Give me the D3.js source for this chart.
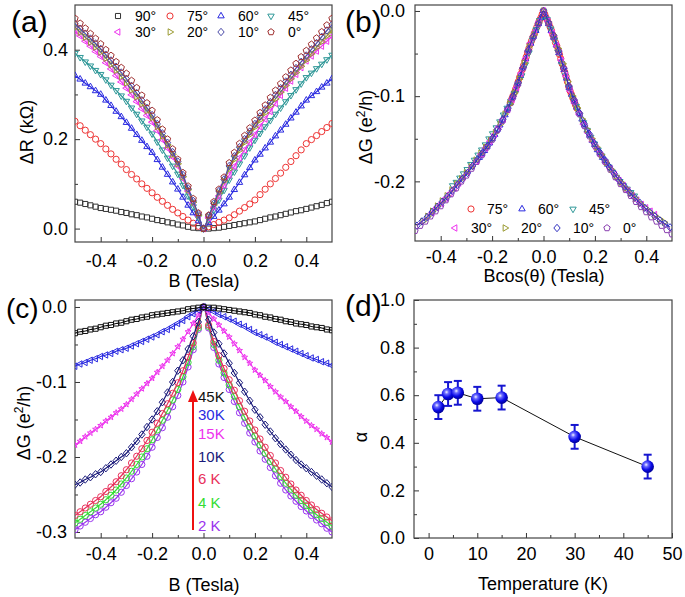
<!DOCTYPE html>
<html><head><meta charset="utf-8">
<script src="https://cdn.jsdelivr.net/npm/d3@7"></script>
<style>body{margin:0;background:#fff;} text{font-family:"Liberation Sans",Arial,sans-serif;fill:#000;}</style>
</head><body><svg id="c" width="685" height="597"></svg>
<script>
// ---------- DATA ----------
const B = [-0.50,-0.48,-0.46,-0.44,-0.42,-0.40,-0.38,-0.36,-0.34,-0.32,-0.30,-0.28,-0.26,-0.24,-0.22,-0.20,-0.18,-0.16,-0.14,-0.12,-0.10,-0.08,-0.06,-0.04,-0.02,0,0.02,0.04,0.06,0.08,0.10,0.12,0.14,0.16,0.18,0.20,0.22,0.24,0.26,0.28,0.30,0.32,0.34,0.36,0.38,0.40,0.42,0.44,0.46,0.48,0.50];

// panel (a): ΔR (kΩ) vs B for each tilt angle
const angles = [90,75,60,45,30,20,10,0];
const angleLabels = ["90°","75°","60°","45°","30°","20°","10°","0°"];
const dR90 = [0.060,0.058,0.055,0.052,0.049,0.046,0.044,0.042,0.040,0.037,0.035,0.032,0.030,0.027,0.025,0.022,0.019,0.017,0.014,0.012,0.009,0.007,0.004,0.002,0.001,0.000,0.000,0.001,0.002,0.004,0.006,0.008,0.010,0.012,0.014,0.016,0.019,0.022,0.025,0.027,0.030,0.033,0.036,0.039,0.041,0.044,0.047,0.050,0.053,0.057,0.060];
const dR75 = [0.240,0.230,0.220,0.210,0.200,0.190,0.178,0.167,0.155,0.144,0.132,0.121,0.111,0.100,0.090,0.080,0.070,0.061,0.052,0.043,0.035,0.027,0.019,0.012,0.005,0,0.004,0.009,0.014,0.019,0.024,0.031,0.039,0.047,0.055,0.064,0.076,0.088,0.100,0.112,0.124,0.137,0.150,0.163,0.176,0.190,0.199,0.208,0.217,0.226,0.235];
const dR60 = [0.342,0.334,0.325,0.317,0.308,0.300,0.287,0.275,0.262,0.250,0.237,0.224,0.210,0.197,0.183,0.170,0.154,0.137,0.121,0.104,0.088,0.070,0.052,0.035,0.017,0,0.013,0.027,0.041,0.055,0.070,0.087,0.103,0.120,0.136,0.153,0.166,0.180,0.193,0.207,0.220,0.233,0.247,0.260,0.274,0.287,0.297,0.306,0.316,0.325,0.335];
const dR45 = [0.392,0.383,0.373,0.364,0.354,0.345,0.333,0.321,0.309,0.297,0.285,0.270,0.256,0.241,0.227,0.212,0.194,0.176,0.158,0.140,0.122,0.097,0.073,0.049,0.025,0,0.021,0.042,0.064,0.086,0.109,0.127,0.145,0.163,0.181,0.198,0.213,0.228,0.242,0.256,0.270,0.284,0.298,0.311,0.324,0.338,0.348,0.358,0.368,0.378,0.388];
const dR30 = [0.442,0.431,0.419,0.408,0.396,0.385,0.371,0.357,0.342,0.328,0.314,0.299,0.284,0.268,0.253,0.238,0.219,0.199,0.180,0.160,0.140,0.112,0.084,0.057,0.029,0,0.024,0.048,0.073,0.097,0.120,0.139,0.158,0.176,0.193,0.210,0.228,0.245,0.262,0.280,0.298,0.314,0.330,0.345,0.360,0.375,0.386,0.397,0.408,0.419,0.430];
const dR20 = [0.450,0.439,0.428,0.417,0.406,0.395,0.381,0.367,0.354,0.340,0.326,0.310,0.295,0.279,0.264,0.248,0.228,0.207,0.187,0.166,0.145,0.116,0.087,0.059,0.030,0,0.026,0.053,0.080,0.106,0.133,0.155,0.175,0.193,0.210,0.227,0.243,0.259,0.275,0.290,0.305,0.320,0.335,0.349,0.363,0.377,0.391,0.405,0.418,0.431,0.444];
const dR10 = [0.458,0.447,0.436,0.425,0.414,0.402,0.389,0.376,0.362,0.349,0.335,0.319,0.303,0.287,0.270,0.254,0.234,0.213,0.192,0.171,0.150,0.120,0.090,0.062,0.032,0,0.028,0.056,0.084,0.110,0.140,0.162,0.182,0.200,0.217,0.234,0.251,0.267,0.283,0.299,0.314,0.329,0.344,0.359,0.373,0.387,0.401,0.415,0.429,0.443,0.456];
const dR0  = [0.470,0.459,0.448,0.436,0.425,0.413,0.400,0.387,0.373,0.360,0.347,0.331,0.315,0.298,0.281,0.264,0.243,0.222,0.200,0.178,0.155,0.125,0.095,0.067,0.035,0,0.030,0.060,0.088,0.115,0.147,0.170,0.190,0.208,0.225,0.242,0.259,0.276,0.293,0.309,0.324,0.339,0.354,0.369,0.384,0.398,0.412,0.426,0.440,0.455,0.470];

// panel (b): ΔG (e²/h) vs B·cos(θ)
const anglesB = [75,60,45,30,20,10,0];
const dG75 = [-0.108,-0.104,-0.100,-0.096,-0.092,-0.088,-0.083,-0.078,-0.074,-0.069,-0.064,-0.059,-0.054,-0.049,-0.044,-0.039,-0.035,-0.031,-0.027,-0.023,-0.019,-0.015,-0.011,-0.008,-0.004,0,-0.004,-0.008,-0.011,-0.015,-0.019,-0.023,-0.028,-0.032,-0.037,-0.041,-0.046,-0.051,-0.056,-0.062,-0.067,-0.072,-0.077,-0.083,-0.089,-0.094,-0.098,-0.102,-0.106,-0.110,-0.114];
const dG60 = [-0.172,-0.168,-0.164,-0.159,-0.155,-0.150,-0.145,-0.139,-0.134,-0.128,-0.122,-0.115,-0.108,-0.101,-0.093,-0.085,-0.076,-0.066,-0.056,-0.046,-0.038,-0.030,-0.023,-0.015,-0.008,0,-0.007,-0.015,-0.023,-0.031,-0.040,-0.049,-0.059,-0.069,-0.079,-0.090,-0.098,-0.106,-0.113,-0.120,-0.127,-0.134,-0.140,-0.146,-0.152,-0.157,-0.163,-0.167,-0.172,-0.176,-0.180];
const dG45 = [-0.205,-0.201,-0.196,-0.191,-0.186,-0.180,-0.175,-0.169,-0.163,-0.157,-0.150,-0.144,-0.137,-0.130,-0.122,-0.114,-0.106,-0.097,-0.087,-0.076,-0.063,-0.049,-0.034,-0.022,-0.011,0,-0.010,-0.021,-0.034,-0.048,-0.062,-0.076,-0.090,-0.102,-0.112,-0.122,-0.131,-0.140,-0.148,-0.156,-0.163,-0.170,-0.177,-0.183,-0.189,-0.195,-0.200,-0.205,-0.209,-0.213,-0.217];
const dG30 = [-0.237,-0.231,-0.226,-0.220,-0.214,-0.208,-0.202,-0.195,-0.189,-0.182,-0.176,-0.168,-0.161,-0.153,-0.145,-0.136,-0.127,-0.116,-0.104,-0.090,-0.073,-0.056,-0.038,-0.025,-0.012,0,-0.012,-0.026,-0.041,-0.058,-0.076,-0.094,-0.108,-0.121,-0.133,-0.143,-0.153,-0.162,-0.170,-0.178,-0.185,-0.192,-0.199,-0.205,-0.211,-0.217,-0.222,-0.227,-0.231,-0.235,-0.239];
const dG20 = [-0.247,-0.241,-0.235,-0.229,-0.223,-0.217,-0.210,-0.203,-0.197,-0.190,-0.183,-0.175,-0.167,-0.160,-0.152,-0.143,-0.133,-0.121,-0.109,-0.096,-0.080,-0.061,-0.042,-0.028,-0.014,0,-0.013,-0.028,-0.044,-0.062,-0.083,-0.100,-0.114,-0.127,-0.139,-0.150,-0.160,-0.169,-0.178,-0.186,-0.194,-0.201,-0.208,-0.214,-0.220,-0.226,-0.231,-0.236,-0.240,-0.244,-0.248];
const dG10 = [-0.252,-0.247,-0.242,-0.236,-0.230,-0.224,-0.218,-0.211,-0.204,-0.197,-0.190,-0.182,-0.174,-0.166,-0.158,-0.149,-0.139,-0.127,-0.114,-0.100,-0.084,-0.066,-0.046,-0.030,-0.015,0,-0.014,-0.029,-0.047,-0.067,-0.088,-0.104,-0.119,-0.132,-0.144,-0.155,-0.165,-0.174,-0.183,-0.191,-0.199,-0.206,-0.213,-0.219,-0.225,-0.231,-0.236,-0.241,-0.246,-0.250,-0.254];
const dG0  = [-0.258,-0.252,-0.247,-0.241,-0.235,-0.229,-0.222,-0.215,-0.208,-0.200,-0.193,-0.185,-0.177,-0.169,-0.160,-0.151,-0.140,-0.129,-0.116,-0.102,-0.086,-0.067,-0.047,-0.031,-0.015,0,-0.014,-0.030,-0.048,-0.068,-0.090,-0.106,-0.121,-0.135,-0.147,-0.158,-0.168,-0.177,-0.186,-0.195,-0.203,-0.210,-0.217,-0.224,-0.230,-0.236,-0.242,-0.247,-0.252,-0.257,-0.262];

// panel (c): ΔG (e²/h) vs B at each temperature
const tempLabels = ["45K","30K","15K","10K","6 K","4 K","2 K"];
const dG45K = [-0.035,-0.033,-0.032,-0.030,-0.029,-0.027,-0.025,-0.024,-0.022,-0.021,-0.019,-0.017,-0.016,-0.014,-0.013,-0.011,-0.010,-0.009,-0.008,-0.007,-0.006,-0.005,-0.003,-0.002,-0.001,0,-0.001,-0.001,-0.002,-0.003,-0.004,-0.005,-0.006,-0.007,-0.008,-0.010,-0.011,-0.013,-0.014,-0.016,-0.017,-0.019,-0.020,-0.022,-0.023,-0.024,-0.026,-0.027,-0.028,-0.030,-0.031];
const dG30K = [-0.079,-0.076,-0.074,-0.071,-0.069,-0.066,-0.064,-0.062,-0.059,-0.057,-0.055,-0.052,-0.049,-0.046,-0.043,-0.040,-0.037,-0.033,-0.030,-0.026,-0.022,-0.018,-0.013,-0.009,-0.004,0,-0.003,-0.006,-0.010,-0.013,-0.016,-0.019,-0.023,-0.026,-0.030,-0.034,-0.037,-0.040,-0.043,-0.047,-0.050,-0.053,-0.056,-0.059,-0.062,-0.065,-0.068,-0.070,-0.073,-0.075,-0.078];
const dG15K = [-0.184,-0.179,-0.173,-0.168,-0.163,-0.158,-0.152,-0.147,-0.141,-0.136,-0.130,-0.123,-0.116,-0.109,-0.102,-0.095,-0.087,-0.079,-0.071,-0.062,-0.053,-0.043,-0.033,-0.022,-0.011,0,-0.008,-0.016,-0.024,-0.032,-0.040,-0.049,-0.058,-0.067,-0.075,-0.084,-0.091,-0.098,-0.106,-0.113,-0.120,-0.126,-0.133,-0.139,-0.146,-0.152,-0.158,-0.163,-0.169,-0.174,-0.180];
const dG10K = [-0.237,-0.234,-0.230,-0.227,-0.223,-0.220,-0.215,-0.210,-0.205,-0.200,-0.195,-0.187,-0.179,-0.170,-0.160,-0.150,-0.139,-0.127,-0.114,-0.100,-0.085,-0.071,-0.056,-0.039,-0.020,0,-0.017,-0.034,-0.049,-0.062,-0.075,-0.088,-0.101,-0.113,-0.125,-0.137,-0.147,-0.157,-0.166,-0.175,-0.183,-0.190,-0.197,-0.204,-0.210,-0.215,-0.220,-0.225,-0.230,-0.235,-0.240];
const dG6K  = [-0.278,-0.273,-0.268,-0.263,-0.258,-0.253,-0.246,-0.240,-0.233,-0.225,-0.217,-0.208,-0.199,-0.189,-0.178,-0.167,-0.155,-0.142,-0.129,-0.115,-0.101,-0.085,-0.067,-0.048,-0.025,0,-0.024,-0.046,-0.065,-0.082,-0.097,-0.111,-0.125,-0.139,-0.152,-0.164,-0.176,-0.187,-0.198,-0.208,-0.218,-0.227,-0.236,-0.244,-0.251,-0.258,-0.264,-0.270,-0.275,-0.280,-0.285];
const dG4K  = [-0.288,-0.283,-0.278,-0.273,-0.268,-0.263,-0.257,-0.251,-0.244,-0.236,-0.228,-0.219,-0.210,-0.200,-0.189,-0.177,-0.164,-0.151,-0.138,-0.124,-0.110,-0.093,-0.074,-0.053,-0.028,0,-0.026,-0.050,-0.071,-0.088,-0.104,-0.119,-0.133,-0.147,-0.160,-0.172,-0.184,-0.195,-0.206,-0.216,-0.226,-0.235,-0.243,-0.251,-0.258,-0.265,-0.271,-0.277,-0.282,-0.287,-0.292];
const dG2K  = [-0.297,-0.292,-0.287,-0.282,-0.277,-0.273,-0.267,-0.261,-0.255,-0.247,-0.238,-0.229,-0.220,-0.210,-0.199,-0.187,-0.174,-0.161,-0.147,-0.133,-0.118,-0.100,-0.080,-0.057,-0.030,0,-0.028,-0.054,-0.076,-0.094,-0.110,-0.126,-0.141,-0.155,-0.168,-0.180,-0.192,-0.203,-0.214,-0.225,-0.235,-0.244,-0.252,-0.259,-0.266,-0.272,-0.278,-0.284,-0.289,-0.295,-0.300];

// panel (d): α vs temperature
const T = [2,4,6,10,15,30,45];
const alpha = [0.55,0.605,0.61,0.585,0.59,0.425,0.30];
const alphaErr = [0.05,0.05,0.05,0.05,0.05,0.05,0.05];

// ---------- HELPERS ----------
const svg = d3.select("#c");
const defs = svg.append("defs");
function poly(n, R, start){
  let p=[];
  for(let i=0;i<n;i++){const a=(start+360*i/n)*Math.PI/180;p.push([R*Math.cos(a),R*Math.sin(a)]);}
  return "M"+p.map(q=>q[0].toFixed(2)+","+q[1].toFixed(2)).join("L")+"Z";
}
function sym(shape, r){
  switch(shape){
    case "square": {const s=r*0.82;return `M${-s},${-s}h${2*s}v${2*s}h${-2*s}Z`;}
    case "circle": return `M${r},0A${r},${r} 0 1,1 ${-r},0A${r},${r} 0 1,1 ${r},0Z`;
    case "triUp": return poly(3,r*1.2,-90);
    case "triDown": return poly(3,r*1.2,90);
    case "triLeft": return poly(3,r*1.2,180);
    case "triRight": return poly(3,r*1.2,0);
    case "diamond": {const R=r*1.2;return `M0,${-R}L${R*0.85},0L0,${R}L${-R*0.85},0Z`;}
    case "pentagon": return poly(5,r*1.08,-90);
    case "star": {let p=[];for(let i=0;i<10;i++){const a=(-90+36*i)*Math.PI/180;const rr=i%2?r*0.5:r*1.2;p.push([rr*Math.cos(a),rr*Math.sin(a)]);}return "M"+p.map(q=>q[0].toFixed(2)+","+q[1].toFixed(2)).join("L")+"Z";}
  }
}
const fmt1 = d => d.toFixed(1);

function panel(id, px, py, xDom, yDom, o){
  const x = d3.scaleLinear().domain(xDom).range([px[0],px[1]]);
  const y = d3.scaleLinear().domain(yDom).range([py[1],py[0]]);
  const g = svg.append("g");
  defs.append("clipPath").attr("id","clip"+id).append("rect")
    .attr("x",px[0]).attr("y",py[0]).attr("width",px[1]-px[0]).attr("height",py[1]-py[0]);
  const ax = (axis, tr) => {
    const a = g.append("g").attr("transform",tr).call(axis);
    a.select(".domain").remove();
    a.selectAll("line").attr("stroke","#333").attr("stroke-width",1);
    a.selectAll("text").attr("font-size",18).attr("fill","#000").style("font-family","Liberation Sans, Arial, sans-serif");
    return a;
  };
  ax(d3.axisBottom(x).tickValues(o.xMajor).tickFormat(o.xFmt).tickSize(-5).tickPadding(o.xPad), `translate(0,${py[1]})`);
  ax(d3.axisBottom(x).tickValues(o.xMinor).tickFormat("").tickSize(-3), `translate(0,${py[1]})`);
  ax(d3.axisLeft(y).tickValues(o.yMajor).tickFormat(o.yFmt).tickSize(-5).tickPadding(o.yPad), `translate(${px[0]},0)`);
  ax(d3.axisLeft(y).tickValues(o.yMinor).tickFormat("").tickSize(-3), `translate(${px[0]},0)`);
  g.append("rect").attr("x",px[0]).attr("y",py[0]).attr("width",px[1]-px[0]).attr("height",py[1]-py[0])
    .attr("fill","none").attr("stroke","#444").attr("stroke-width",1.2);
  const plot = svg.append("g").attr("clip-path",`url(#clip${id})`);
  return {x,y,g,plot};
}
function drawSeries(P, xs, ys, shape, color, r, withLine, lineW){
  const pts = d3.zip(xs, ys);
  if(withLine){
    P.plot.append("path").datum(pts).attr("fill","none").attr("stroke",color).attr("stroke-width",lineW||1.3)
      .attr("d", d3.line().x(d=>P.x(d[0])).y(d=>P.y(d[1])).curve(d3.curveMonotoneX));
  }
  P.plot.append("g").selectAll("path").data(pts).join("path")
    .attr("transform",d=>`translate(${P.x(d[0])},${P.y(d[1])})`)
    .attr("d",sym(shape,r)).attr("fill","none").attr("stroke",color).attr("stroke-width",1);
}
function label(t, x, y, size, anchor, rot){
  const el = svg.append("text").attr("font-size",size).attr("text-anchor",anchor||"start");
  if(rot){el.attr("transform",`translate(${x},${y}) rotate(-90)`).attr("dy","0.35em");}
  else el.attr("x",x).attr("y",y);
  return el.text(t);
}
function gLabel(x,y){
  const el = svg.append("text").attr("font-size",18).attr("text-anchor","middle")
    .attr("transform",`translate(${x},${y}) rotate(-90)`).attr("dy","0.35em");
  el.append("tspan").text("ΔG (e");
  el.append("tspan").attr("font-size",12).attr("dy","-0.6em").text("2");
  el.append("tspan").attr("dy","0.4em").text("/h)");
}

// ---------- PANEL (a) ----------
const colA = {90:"#333333",75:"#ee3333",60:"#2a2ae0",45:"#2f9898",30:"#ee33ee",20:"#9a9a30",10:"#4a4aa8",0:"#a03030"};
const shp = {90:"square",75:"circle",60:"triUp",45:"triDown",30:"triLeft",20:"triRight",10:"diamond",0:"pentagon"};
const dRseries = {90:dR90,75:dR75,60:dR60,45:dR45,30:dR30,20:dR20,10:dR10,0:dR0};
const xMaj = [-0.4,-0.2,0,0.2,0.4], xMin = [-0.3,-0.1,0.1,0.3];
const Pa = panel("a",[75,332],[5,242],[-0.5,0.5],[-0.03,0.5],
  {xMajor:xMaj,xMinor:xMin,xFmt:fmt1,xPad:12,yMajor:[0,0.2,0.4],yMinor:[0.1,0.3],yFmt:fmt1,yPad:7});
angles.forEach(a=>drawSeries(Pa,B,dRseries[a],shp[a],colA[a],3.1,[60,45,30,20,10].includes(a),1.2));
// legend (a)
const legAx=[118,170,221,271], legAy=[16,32];
angles.forEach((a,i)=>{
  const cx=legAx[i%4], cy=legAy[Math.floor(i/4)];
  svg.append("path").attr("transform",`translate(${cx},${cy})`).attr("d",sym(shp[a],3.1))
    .attr("fill","none").attr("stroke",colA[a]).attr("stroke-width",1);
  label(angleLabels[i],cx+17,cy,14).attr("dy","0.36em");
});
label("(a)",11,32,30);
label("B (Tesla)",204,287,18,"middle");
label("ΔR (kΩ)",27,132,18,"middle",true);

// ---------- PANEL (b) ----------
const colB = {75:"#ee3333",60:"#2a2ae0",45:"#2f9898",30:"#ee33ee",20:"#9a9a30",10:"#3030c0",0:"#8a40b0"};
const dGseries = {75:dG75,60:dG60,45:dG45,30:dG30,20:dG20,10:dG10,0:dG0};
const Pb = panel("b",[415,672],[5,241],[-0.5,0.5],[-0.27,0.007],
  {xMajor:xMaj,xMinor:xMin,xFmt:fmt1,xPad:9,yMajor:[0,-0.1,-0.2],yMinor:[-0.05,-0.15,-0.25],yFmt:fmt1,yPad:10});
anglesB.forEach(a=>{
  const cs = Math.cos(a*Math.PI/180);
  drawSeries(Pb,B.map(b=>b*cs),dGseries[a],shp[a],colB[a],3.1,a===75||a===10,1.2);
});
const legB=[[471,209],[522,209],[573,209],[455,228],[505,228],[557,228],[607,228]];
anglesB.forEach((a,i)=>{
  const [cx,cy]=legB[i];
  svg.append("path").attr("transform",`translate(${cx},${cy})`).attr("d",sym(shp[a],3.1))
    .attr("fill","none").attr("stroke",colB[a]).attr("stroke-width",1);
  label(angleLabels[angles.indexOf(a)],cx+16,cy,14).attr("dy","0.36em");
});
label("(b)",345,32,30);
label("Bcos(θ) (Tesla)",544,282,18,"middle");
gLabel(366,127);

// ---------- PANEL (c) ----------
const colC = ["#111111","#2a2ae0","#ee33ee","#1a1a7a","#e8305a","#33dd33","#9933ee"];
const shpC = ["square","triLeft","star","diamond","circle","circle","circle"];
const dGT = [dG45K,dG30K,dG15K,dG10K,dG6K,dG4K,dG2K];
const Pc = panel("c",[75,332],[300,538],[-0.5,0.5],[-0.308,0.0093],
  {xMajor:xMaj,xMinor:xMin,xFmt:fmt1,xPad:9,yMajor:[0,-0.1,-0.2,-0.3],yMinor:[-0.05,-0.15,-0.25],yFmt:fmt1,yPad:8});
[6,5,4,3,2,1,0].forEach(i=>drawSeries(Pc,B,dGT[i],shpC[i],colC[i],i===2?2.6:3.1,true,1.2));
// arrow
svg.append("line").attr("x1",193).attr("x2",193).attr("y1",530).attr("y2",397)
  .attr("stroke","#ee1111").attr("stroke-width",2);
svg.append("path").attr("d","M188,402L193,390L198,402Z").attr("fill","#ee1111");
const tY=[397,415,434,457,479,503,526];
tempLabels.forEach((t,i)=>label(t,198,tY[i],15).attr("dy","0.36em").style("fill",colC[i]));
label("(c)",6,318,28);
label("B (Tesla)",204,591,18,"middle");
gLabel(24,423);

// ---------- PANEL (d) ----------
const Pd = panel("d",[414,672],[300,538],[-3,50],[0,1],
  {xMajor:[0,10,20,30,40,50],xMinor:[5,15,25,35,45],xFmt:d=>String(d),xPad:9,
   yMajor:[0,0.2,0.4,0.6,0.8,1.0],yMinor:[0.1,0.3,0.5,0.7,0.9],yFmt:fmt1,yPad:9});
const grad = defs.append("radialGradient").attr("id","ball").attr("cx","38%").attr("cy","35%").attr("r","65%");
grad.append("stop").attr("offset","0%").attr("stop-color","#f4f4ff");
grad.append("stop").attr("offset","25%").attr("stop-color","#6a6aff");
grad.append("stop").attr("offset","65%").attr("stop-color","#0a0ae6");
grad.append("stop").attr("offset","100%").attr("stop-color","#00009a");
const dPts = d3.zip(T,alpha,alphaErr);
svg.append("path").datum(dPts).attr("fill","none").attr("stroke","#111").attr("stroke-width",1)
  .attr("d",d3.line().x(d=>Pd.x(d[0])).y(d=>Pd.y(d[1])));
const eb = svg.append("g").attr("stroke","#1515d0").attr("stroke-width",2);
dPts.forEach(d=>{
  const cx=Pd.x(d[0]);
  eb.append("line").attr("x1",cx).attr("x2",cx).attr("y1",Pd.y(d[1]-d[2])).attr("y2",Pd.y(d[1]+d[2]));
  eb.append("line").attr("x1",cx-4).attr("x2",cx+4).attr("y1",Pd.y(d[1]-d[2])).attr("y2",Pd.y(d[1]-d[2]));
  eb.append("line").attr("x1",cx-4).attr("x2",cx+4).attr("y1",Pd.y(d[1]+d[2])).attr("y2",Pd.y(d[1]+d[2]));
});
svg.append("g").selectAll("circle").data(dPts).join("circle")
  .attr("cx",d=>Pd.x(d[0])).attr("cy",d=>Pd.y(d[1])).attr("r",6.3).attr("fill","url(#ball)");
label("(d)",345,316,30);
label("Temperature (K)",543,590,18,"middle");
label("α",361,437,18,"middle",true);
</script></body></html>
